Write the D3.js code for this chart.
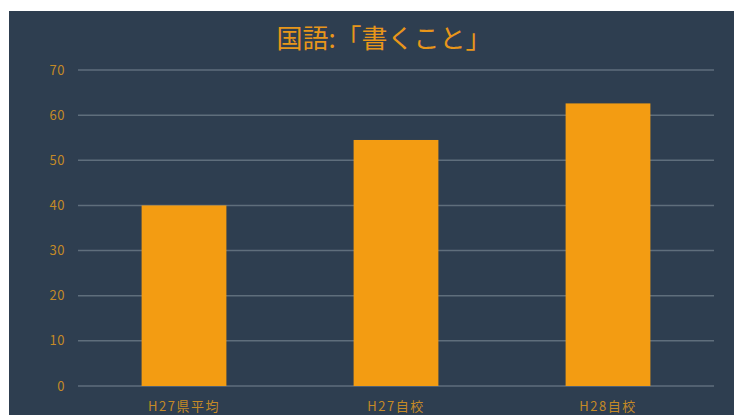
<!DOCTYPE html>
<html>
<head>
<meta charset="utf-8">
<script src="https://cdn.jsdelivr.net/npm/d3@7"></script>
<style>
  body { margin: 0; background: #fff; }
  svg { display: block; }
  text { font-family: "Noto Sans CJK JP", "Noto Sans", sans-serif; }
</style>
</head>
<body>
<svg id="chart" width="734" height="415"></svg>
<script>
// chart data
const categories = ["H27県平均", "H27自校", "H28自校"];
const scores = [40, 54.5, 62.6];
const yTicks = [0, 10, 20, 30, 40, 50, 60, 70];
const title = "国語:「書くこと」";

const svg = d3.select("#chart");
const margin = {top: 70, right: 20, bottom: 29, left: 78};
const width = 714;
const bottom = 386;

svg.append("rect")
    .attr("x", 9).attr("y", 11)
    .attr("width", 725).attr("height", 404)
    .attr("fill", "#2e3e50");

const x = d3.scaleBand()
    .domain(categories)
    .range([margin.left, width])
    .paddingInner(0.6)
    .paddingOuter(0.3);

const y = d3.scaleLinear()
    .domain([0, 70])
    .range([bottom, margin.top]);

// gridlines
svg.append("g")
    .selectAll("line")
    .data(yTicks)
    .enter()
    .append("line")
    .attr("x1", margin.left).attr("x2", width)
    .attr("y1", d => y(d)).attr("y2", d => y(d))
    .attr("stroke", "#5f6e7c")
    .attr("stroke-width", 1.5);

// y labels
svg.append("g")
    .selectAll("text")
    .data(yTicks)
    .enter()
    .append("text")
    .attr("x", 65)
    .attr("y", d => y(d))
    .attr("dy", "0.35em")
    .attr("text-anchor", "end")
    .attr("font-size", 13)
    .attr("letter-spacing", 0.5)
    .attr("fill", "#c48a26")
    .text(d => d);

// bars
svg.append("g")
    .selectAll("rect")
    .data(scores)
    .enter()
    .append("rect")
    .attr("x", (d, i) => x(categories[i]))
    .attr("y", d => y(d))
    .attr("width", x.bandwidth())
    .attr("height", d => bottom - y(d))
    .attr("fill", "#f39c12");

// category labels
svg.append("g")
    .selectAll("text")
    .data(categories)
    .enter()
    .append("text")
    .attr("x", d => x(d) + x.bandwidth() / 2)
    .attr("y", 406)
    .attr("dy", "0.35em")
    .attr("text-anchor", "middle")
    .attr("font-size", 13)
    .attr("letter-spacing", 1.5)
    .attr("fill", "#c48a26")
    .text(d => d);

svg.append("text")
    .attr("x", 384)
    .attr("y", 39)
    .attr("dy", "0.35em")
    .attr("text-anchor", "middle")
    .attr("font-size", 26)
    .attr("fill", "#e8961a")
    .text(title);
</script>
</body>
</html>
